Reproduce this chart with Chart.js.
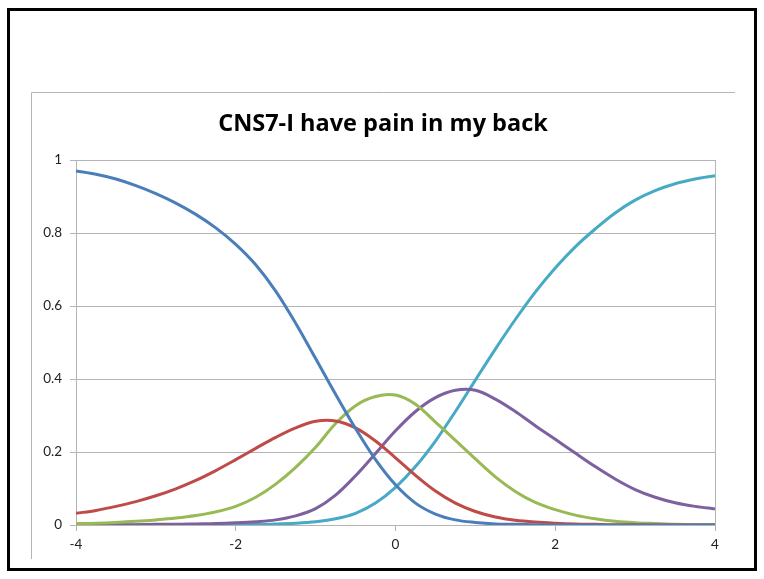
<!DOCTYPE html>
<html>
<head>
<meta charset="utf-8">
<script src="https://cdn.jsdelivr.net/npm/chart.js@4"></script>
<style>
  html, body { margin: 0; padding: 0; background: #fff; }
  #wrap { width: 764px; height: 579px; position: relative; }
</style>
</head>
<body>
<div id="wrap"><canvas id="curveChart"></canvas></div>
<script>
// theta points
const thetas = [-4, -3.75, -3.5, -3.25, -3, -2.75, -2.5, -2.25, -2, -1.75, -1.5, -1.25, -1, -0.75, -0.5, -0.25,
  0, 0.25, 0.5, 0.75, 1, 1.25, 1.5, 1.75, 2, 2.25, 2.5, 2.75, 3, 3.25, 3.5, 3.75, 4];

const cat1 = [0.970, 0.961, 0.948, 0.930, 0.908, 0.882, 0.851, 0.814, 0.769, 0.713, 0.641, 0.553, 0.456, 0.358, 0.264, 0.179,
  0.110, 0.060, 0.030, 0.014, 0.007, 0.003, 0.002, 0.001, 0, 0, 0, 0, 0, 0, 0, 0, 0];
const cat2 = [0.032, 0.040, 0.051, 0.064, 0.080, 0.099, 0.122, 0.149, 0.179, 0.210, 0.240, 0.266, 0.284, 0.285, 0.266, 0.230,
  0.184, 0.136, 0.093, 0.060, 0.037, 0.022, 0.013, 0.008, 0.005, 0.003, 0.002, 0.001, 0.001, 0, 0, 0, 0];
const cat3 = [0.004, 0.005, 0.007, 0.010, 0.014, 0.019, 0.026, 0.036, 0.051, 0.076, 0.112, 0.158, 0.213, 0.278, 0.327, 0.352,
  0.356, 0.331, 0.282, 0.232, 0.181, 0.132, 0.092, 0.062, 0.042, 0.027, 0.017, 0.010, 0.006, 0.004, 0.002, 0.001, 0.001];
const cat4 = [0, 0.001, 0.001, 0.001, 0.002, 0.002, 0.003, 0.004, 0.006, 0.009, 0.014, 0.025, 0.045, 0.082, 0.135, 0.196,
  0.258, 0.311, 0.349, 0.369, 0.369, 0.345, 0.311, 0.272, 0.235, 0.197, 0.160, 0.126, 0.097, 0.076, 0.061, 0.051, 0.044];
const cat5 = [0, 0, 0, 0, 0, 0, 0, 0, 0.001, 0.002, 0.003, 0.005, 0.009, 0.017, 0.032, 0.060,
  0.103, 0.160, 0.230, 0.311, 0.397, 0.482, 0.563, 0.638, 0.704, 0.762, 0.811, 0.855, 0.890, 0.916, 0.935, 0.948, 0.957];

const xTicks = [-4, -2, 0, 2, 4];
const yTicks = [0, 0.2, 0.4, 0.6, 0.8, 1];

const titleText = 'CNS7-I have pain in my back';
const GRID = '#b4b4b4';

function pts(vals) {
  return vals.map((v, i) => ({ x: thetas[i], y: v }));
}

// slide frame, chart object edges and the title (centred on the whole chart object)
const framePlugin = {
  id: 'frame',
  beforeDraw(chart) {
    const c = chart.ctx;
    c.save();
    c.fillStyle = '#fff';
    c.fillRect(0, 0, chart.width, chart.height);
    c.strokeStyle = GRID;
    c.lineWidth = 1;
    c.beginPath();
    c.moveTo(31.5, 559);
    c.lineTo(31.5, 92.5);
    c.lineTo(735, 92.5);
    c.stroke();
    c.strokeStyle = '#000';
    c.lineWidth = 3;
    c.strokeRect(8.5, 9.5, 747, 560);

    c.fillStyle = '#000';
    c.font = 'bold 23.5px "Open Sans"';
    c.textAlign = 'center';
    c.textBaseline = 'alphabetic';
    c.fillText(titleText, 383, 131);
    c.restore();
  }
};

const series = [
  { label: 'Category 1', data: cat1, color: '#4a7ebb' },
  { label: 'Category 2', data: cat2, color: '#be4b48' },
  { label: 'Category 3', data: cat3, color: '#98b954' },
  { label: 'Category 4', data: cat4, color: '#7d60a0' },
  { label: 'Category 5', data: cat5, color: '#46aac5' }
];

new Chart(document.getElementById('curveChart'), {
  type: 'line',
  data: {
    datasets: series.map(s => ({
      label: s.label,
      data: pts(s.data),
      borderColor: s.color,
      borderWidth: 3,
      pointRadius: 0,
      tension: 0.35,
      fill: false
    }))
  },
  options: {
    responsive: true,
    maintainAspectRatio: false,
    animation: false,
    layout: { padding: { left: 0, right: 49, top: 160, bottom: 0 } },
    plugins: {
      legend: { display: false },
      tooltip: { enabled: false },
      title: { display: false }
    },
    scales: {
      x: {
        type: 'linear',
        min: -4,
        max: 4,
        afterBuildTicks: s => { s.ticks = xTicks.map(v => ({ value: v })); },
        afterFit: s => { s.height = 54; },
        border: { color: GRID, width: 1 },
        grid: {
          color: c => (c.tick && c.tick.value === 4 ? GRID : 'rgba(0,0,0,0)'),
          tickColor: GRID,
          tickLength: 6
        },
        ticks: {
          color: '#222',
          padding: 6,
          maxRotation: 0,
          callback: v => String(v),
          font: { family: 'Lato', size: 13.5 }
        }
      },
      y: {
        min: 0,
        max: 1,
        afterBuildTicks: s => { s.ticks = yTicks.map(v => ({ value: v })); },
        afterFit: s => { s.width = 76; },
        border: { color: GRID, width: 1 },
        grid: { color: GRID, tickColor: GRID, tickLength: 6 },
        ticks: {
          color: '#222',
          padding: 8,
          callback: v => String(v),
          font: { family: 'Lato', size: 13.5 }
        }
      }
    }
  },
  plugins: [framePlugin]
});
</script>
</body>
</html>
